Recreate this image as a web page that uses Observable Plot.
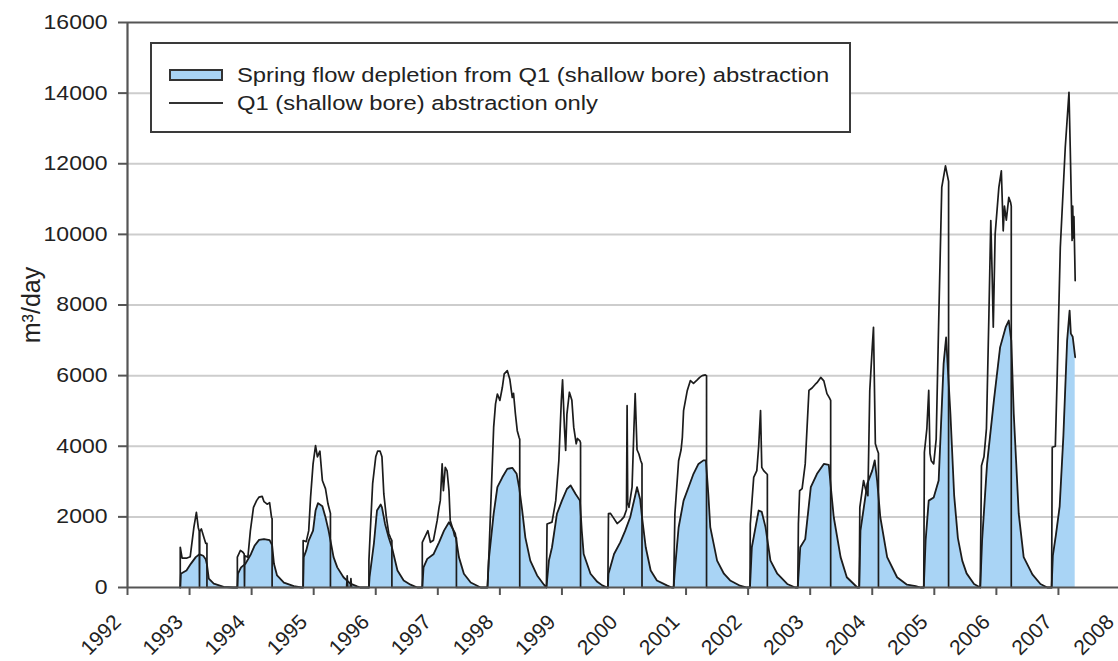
<!DOCTYPE html>
<html>
<head>
<meta charset="utf-8">
<script src="https://cdn.jsdelivr.net/npm/d3@7"></script>
<script src="https://cdn.jsdelivr.net/npm/@observablehq/plot@0.6"></script>
<style>
  body { margin: 0; background: #fff; font-family: "Liberation Sans", Arial, sans-serif; }
  #wrap { position: relative; width: 1118px; height: 661px; overflow: hidden; background: #fff; }
  #legend { position: absolute; left: 150px; top: 42px; width: 701px; height: 91px; box-sizing: border-box;
            border: 2px solid #3a3a3a; background: #fff; color: #222; }
  .row { position: absolute; left: 17px; height: 24px; display: flex; align-items: center; }
  .sw { width: 54px; height: 12px; box-sizing: border-box; }
  .lab { position: absolute; left: 68px; white-space: nowrap; font-size: 20.5px; transform: scaleX(1.16); transform-origin: left center; }
</style>
</head>
<body>
<div id="wrap"></div>
<script>
// ---------- data ----------
const seriesNames = ["Spring flow depletion from Q1 (shallow bore) abstraction", "Q1 (shallow bore) abstraction only"];
const yLabel = "m³/day";
const yTicks = [0, 2000, 4000, 6000, 8000, 10000, 12000, 14000, 16000];
const xTicks = [1992, 1993, 1994, 1995, 1996, 1997, 1998, 1999, 2000, 2001, 2002, 2003, 2004, 2005, 2006, 2007, 2008];

// Q1 (shallow bore) abstraction only  [decimal year, m3/day]
const q1Abstraction = [
  [1992.85,0],[1992.85,1140],[1992.88,830],[1992.95,830],[1993.01,870],[1993.07,1710],[1993.11,2130],[1993.14,1700],[1993.155,1600],[1993.16,0],[1993.165,1580],[1993.19,1660],[1993.23,1420],[1993.26,1250],[1993.28,1250],[1993.28,0],
  [1993.77,0],[1993.77,860],[1993.82,1050],[1993.86,1000],[1993.88,950],[1993.885,0],[1993.89,900],[1993.94,860],[1993.98,1610],[1994.03,2270],[1994.08,2460],[1994.12,2560],[1994.17,2580],[1994.20,2430],[1994.25,2360],[1994.29,2400],[1994.32,1990],[1994.33,1950],[1994.33,0],
  [1994.83,0],[1994.83,1330],[1994.88,1300],[1994.92,1610],[1994.95,2560],[1994.99,3500],[1995.03,4020],[1995.06,3700],[1995.10,3860],[1995.14,3030],[1995.19,2800],[1995.23,2370],[1995.27,2100],[1995.27,0],[1995.53,0],[1995.54,330],[1995.55,0],[1995.59,0],[1995.60,250],[1995.61,0],
  [1995.89,0],[1995.89,760],[1995.91,1530],[1995.95,2940],[1996.00,3700],[1996.03,3860],[1996.07,3860],[1996.10,3700],[1996.13,2650],[1996.17,2000],[1996.21,1530],[1996.24,1400],[1996.26,1330],[1996.26,0],
  [1996.75,0],[1996.75,1280],[1996.84,1610],[1996.88,1280],[1996.93,1340],[1996.99,1900],[1997.02,2270],[1997.04,2460],[1997.07,3500],[1997.09,2740],[1997.12,3400],[1997.15,3300],[1997.18,2740],[1997.20,1900],[1997.25,1610],[1997.27,1460],[1997.30,1400],[1997.30,0],
  [1997.80,0],[1997.82,760],[1997.86,2650],[1997.90,4540],[1997.93,5200],[1997.96,5480],[1998.00,5300],[1998.04,5670],[1998.07,6050],[1998.12,6140],[1998.16,5900],[1998.20,5380],[1998.22,5500],[1998.25,4920],[1998.28,4440],[1998.31,4250],[1998.32,4200],[1998.32,0],
  [1998.75,0],[1998.76,1800],[1998.84,1850],[1998.90,2460],[1998.95,3590],[1998.99,5290],[1999.01,5880],[1999.04,4540],[1999.06,3880],[1999.08,4900],[1999.12,5530],[1999.16,5300],[1999.19,4540],[1999.23,4070],[1999.25,4220],[1999.29,4150],[1999.30,4100],[1999.30,0],
  [1999.74,0],[1999.75,2090],[1999.78,2100],[1999.82,2000],[1999.89,1810],[1999.95,1900],[2000.00,2000],[2000.04,2200],[2000.05,5150],[2000.06,2400],[2000.08,2270],[2000.13,2840],[2000.16,4500],[2000.18,5490],[2000.21,3900],[2000.24,3780],[2000.27,3590],[2000.29,3500],[2000.29,0],
  [2000.80,0],[2000.82,2090],[2000.88,3590],[2000.92,3900],[2000.94,4250],[2000.96,5010],[2001.02,5580],[2001.07,5860],[2001.12,5780],[2001.18,5880],[2001.22,5950],[2001.26,6000],[2001.31,6020],[2001.33,6000],[2001.33,0],
  [2002.03,0],[2002.035,1800],[2002.09,3120],[2002.14,3310],[2002.17,4000],[2002.20,5010],[2002.22,3400],[2002.25,3310],[2002.31,3200],[2002.31,0],
  [2002.80,0],[2002.81,1800],[2002.83,2740],[2002.87,2800],[2002.92,3500],[2002.98,5580],[2003.03,5650],[2003.08,5750],[2003.11,5800],[2003.17,5950],[2003.22,5850],[2003.27,5490],[2003.31,5370],[2003.33,5300],[2003.33,0],
  [2003.79,0],[2003.80,2270],[2003.86,3030],[2003.89,2800],[2003.93,2600],[2003.96,5580],[2004.00,6800],[2004.02,7370],[2004.05,4070],[2004.08,3900],[2004.10,3800],[2004.10,0],
  [2004.83,0],[2004.84,3830],[2004.88,4500],[2004.91,5580],[2004.93,3800],[2004.95,3590],[2004.99,3500],[2005.03,4200],[2005.07,7500],[2005.12,11330],[2005.18,11940],[2005.23,11500],[2005.23,0],
  [2005.74,0],[2005.76,3450],[2005.80,3700],[2005.84,4500],[2005.88,7750],[2005.91,10390],[2005.93,9000],[2005.95,7370],[2005.98,10000],[2006.04,11330],[2006.08,11800],[2006.11,10100],[2006.13,10800],[2006.16,10400],[2006.20,11050],[2006.23,10900],[2006.24,10800],[2006.24,0],
  [2006.89,0],[2006.90,3970],[2006.95,4000],[2006.98,6000],[2007.03,9630],[2007.11,12460],[2007.17,14020],[2007.19,12460],[2007.21,10760],[2007.22,9830],[2007.23,10800],[2007.24,9900],[2007.25,10500],[2007.27,8690]
];

// Spring flow depletion from Q1 abstraction  [decimal year, m3/day]
const springDepletion = [
  [1992.85,0],[1992.86,390],[1992.90,430],[1992.95,480],[1993.02,670],[1993.10,860],[1993.16,940],[1993.22,900],[1993.26,800],[1993.28,650],[1993.31,250],[1993.39,110],[1993.55,20],[1993.70,0],
  [1993.77,0],[1993.78,390],[1993.83,570],[1993.90,670],[1993.99,950],[1994.05,1190],[1994.12,1350],[1994.20,1370],[1994.29,1340],[1994.33,1200],[1994.36,670],[1994.41,340],[1994.52,140],[1994.68,40],[1994.80,0],
  [1994.83,0],[1994.84,860],[1994.88,1050],[1994.92,1330],[1994.99,1610],[1995.03,2180],[1995.07,2390],[1995.14,2300],[1995.19,1990],[1995.24,1610],[1995.27,1330],[1995.32,860],[1995.38,570],[1995.48,290],[1995.59,110],[1995.70,30],[1995.75,0],
  [1995.89,0],[1995.90,290],[1995.97,1240],[1996.02,2180],[1996.08,2350],[1996.10,2270],[1996.15,1800],[1996.21,1410],[1996.26,1140],[1996.35,480],[1996.45,200],[1996.56,80],[1996.67,0],
  [1996.75,0],[1996.77,570],[1996.83,810],[1996.93,940],[1997.02,1280],[1997.10,1610],[1997.18,1850],[1997.23,1700],[1997.28,1530],[1997.34,860],[1997.42,390],[1997.53,140],[1997.69,0],
  [1997.80,0],[1997.82,760],[1997.90,2090],[1997.96,2840],[1998.04,3120],[1998.12,3360],[1998.20,3390],[1998.27,3220],[1998.31,2840],[1998.36,2180],[1998.41,1420],[1998.49,760],[1998.60,340],[1998.71,80],[1998.75,0],
  [1998.79,760],[1998.84,1140],[1998.92,2090],[1999.00,2460],[1999.08,2790],[1999.14,2890],[1999.22,2650],[1999.29,2460],[1999.32,1600],[1999.35,950],[1999.46,390],[1999.57,160],[1999.65,60],[1999.73,0],
  [1999.74,0],[1999.75,390],[1999.84,950],[1999.94,1280],[2000.02,1610],[2000.10,1990],[2000.18,2600],[2000.21,2840],[2000.26,2500],[2000.29,2000],[2000.35,1140],[2000.43,480],[2000.53,200],[2000.69,60],[2000.77,0],
  [2000.80,0],[2000.82,500],[2000.88,1700],[2000.96,2460],[2001.04,2840],[2001.12,3220],[2001.20,3500],[2001.28,3600],[2001.32,3600],[2001.36,2600],[2001.39,1710],[2001.50,760],[2001.61,390],[2001.71,200],[2001.87,50],[2001.98,0],
  [2002.03,0],[2002.06,1140],[2002.12,1710],[2002.17,2180],[2002.22,2140],[2002.28,1710],[2002.36,760],[2002.47,390],[2002.63,100],[2002.76,0],
  [2002.80,0],[2002.84,1140],[2002.92,1370],[2003.01,2840],[2003.11,3220],[2003.22,3500],[2003.30,3470],[2003.34,2700],[2003.38,1990],[2003.49,860],[2003.59,290],[2003.76,0],
  [2003.79,0],[2003.81,1610],[2003.92,2940],[2004.00,3310],[2004.04,3600],[2004.08,3000],[2004.13,1990],[2004.24,860],[2004.40,290],[2004.56,80],[2004.70,40],[2004.78,0],
  [2004.83,0],[2004.86,1330],[2004.91,2460],[2004.99,2550],[2005.07,3030],[2005.15,6340],[2005.19,7080],[2005.26,4900],[2005.32,2600],[2005.38,1400],[2005.45,760],[2005.52,400],[2005.64,100],[2005.74,0],
  [2005.77,1330],[2005.85,3500],[2005.96,5290],[2006.06,6800],[2006.15,7370],[2006.20,7560],[2006.24,7000],[2006.28,4920],[2006.36,2090],[2006.44,860],[2006.58,370],[2006.71,100],[2006.82,0],
  [2006.89,0],[2006.91,900],[2006.96,1500],[2007.02,2300],[2007.08,4300],[2007.14,6990],[2007.18,7840],[2007.20,7190],[2007.23,7100],[2007.27,6520]
];

// ---------- chart ----------
const fillBlue = "#a9d4f5";
const ink = "#1c1c1c";
const axisInk = "#555";
const gridInk = "#cdcdcd";

const chart = Plot.plot({
  width: 1118,
  height: 661,
  marginLeft: 127,
  marginRight: 0,
  marginTop: 22,
  marginBottom: 74,
  style: { fontFamily: "'Liberation Sans', Arial, sans-serif", background: "transparent", color: ink },
  x: { domain: [1992, 2008], range: [127, 1120] },
  y: { domain: [0, 16000] },
  marks: [
    Plot.ruleY(yTicks.slice(1, -1), { x1: 1992, x2: 2008, stroke: gridInk, strokeWidth: 2 }),
    Plot.areaY(springDepletion, { x: d => d[0], y: d => d[1], fill: fillBlue, fillOpacity: 1 }),
    Plot.lineY(springDepletion, { x: d => d[0], y: d => d[1], stroke: ink, strokeWidth: 1.8, strokeLinejoin: "round" }),
    Plot.lineY(q1Abstraction, { x: d => d[0], y: d => d[1], stroke: ink, strokeWidth: 1.7, strokeLinejoin: "round" }),
    Plot.ruleY([16000], { x1: 1992, x2: 2008, stroke: axisInk, strokeWidth: 2 }),
    Plot.ruleY([0], { x1: 1992, x2: 2008, stroke: axisInk, strokeWidth: 2.2 }),
    Plot.ruleX([1992], { y1: 0, y2: 16000, stroke: axisInk, strokeWidth: 2.2 }),
    Plot.axisY({ ticks: yTicks, tickSize: 9, tickPadding: 11, fontSize: 20, stroke: axisInk, strokeWidth: 2, fill: "#222", tickFormat: d => String(d), label: null }),
    Plot.axisX({ ticks: xTicks, tickSize: 8, stroke: axisInk, strokeWidth: 2, tickFormat: () => "", label: null }),
    // rotated year labels, anchored just below-left of each tick
    Plot.text(xTicks, { x: d => d, y: 0, text: d => String(d), rotate: -45, textAnchor: "end", dx: -10, dy: 31, fontSize: 21, fill: "#222" }),
    Plot.text([yLabel], { frameAnchor: "left", dx: -96, rotate: -90, textAnchor: "middle", fontSize: 25, fill: "#222", text: d => d })
  ]
});

// stretch y tick labels horizontally like the reference
chart.querySelectorAll('g[aria-label="y-axis tick label"] text').forEach(t => {
  const tr = t.getAttribute("transform") || "";
  t.setAttribute("transform", tr + " scale(1.15,1)");
});

const wrap = document.getElementById("wrap");
wrap.appendChild(chart);

// legend (inside the plot area, as in the reference)
const legend = document.createElement("div");
legend.id = "legend";
legend.innerHTML = `
  <div class="row" style="top:19px"><div class="sw" style="background:${fillBlue};border:2px solid #333"></div><span class="lab">${seriesNames[0]}</span></div>
  <div class="row" style="top:47px"><div class="sw" style="height:2px;background:#333"></div><span class="lab">${seriesNames[1]}</span></div>`;
wrap.appendChild(legend);
</script>
</body>
</html>
